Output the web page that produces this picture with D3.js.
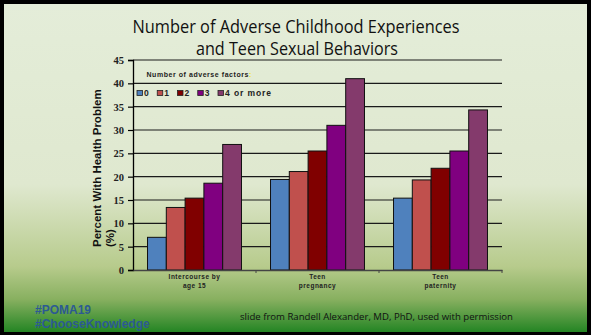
<!DOCTYPE html>
<html>
<head>
<meta charset="utf-8">
<script src="https://cdn.jsdelivr.net/npm/d3@7"></script>
<style>
  body { margin: 0; background: #000; }
  svg { display: block; }
</style>
</head>
<body>
<div id="wrapper"></div>
<script>
// chart data
const groups = ["Intercourse by|age 15", "Teen|pregnancy", "Teen|paternity"];
const factors = ["0", "1", "2", "3", "4 or more"];
const colors = ["#4f81bd", "#c0504d", "#800000", "#800080", "#843a6c"];
const values0 = [7.0, 19.4, 15.4];
const values1 = [13.4, 21.1, 19.3];
const values2 = [15.4, 25.5, 21.8];
const values3 = [18.6, 31.0, 25.5];
const values4 = [26.9, 41.0, 34.3];
const yTicks = [0, 5, 10, 15, 20, 25, 30, 35, 40, 45];

const series = [values0, values1, values2, values3, values4];

let dimensions = {
    width: 591,
    height: 335,
    margin: { top: 60, left: 133, bottom: 65, right: 89 }
}
dimensions.boundedWidth = dimensions.width - dimensions.margin.left - dimensions.margin.right;
dimensions.boundedHeight = dimensions.height - dimensions.margin.top - dimensions.margin.bottom;

const svg = d3.select("#wrapper").append("svg")
    .attr("width", dimensions.width)
    .attr("height", dimensions.height);

// slide background
const grad = svg.append("defs").append("linearGradient")
    .attr("id", "bg").attr("x1", 0).attr("y1", 0).attr("x2", 0).attr("y2", 1);
[[0, "#e4edd9"], [0.55, "#dfe8cf"], [0.8, "#b7cb8c"], [0.9, "#88b060"], [1, "#248524"]]
    .forEach(s => grad.append("stop").attr("offset", s[0]).attr("stop-color", s[1]));

svg.append("rect").attr("width", dimensions.width).attr("height", dimensions.height).attr("fill", "#000");
svg.append("rect").attr("x", 4).attr("y", 4)
    .attr("width", dimensions.width - 8).attr("height", dimensions.height - 7)
    .attr("fill", "url(#bg)");

// title
const title = svg.append("g").attr("font-family", "Open Sans, sans-serif").attr("fill", "#111");
title.append("text").attr("x", 296).attr("y", 33).attr("text-anchor", "middle")
    .attr("font-size", 18).attr("textLength", 327).attr("lengthAdjust", "spacingAndGlyphs")
    .text("Number of Adverse Childhood Experiences");
title.append("text").attr("x", 297).attr("y", 55).attr("text-anchor", "middle")
    .attr("font-size", 18).attr("textLength", 202).attr("lengthAdjust", "spacingAndGlyphs")
    .text("and Teen Sexual Behaviors");

const container = svg.append("g")
    .attr("transform", `translate(${dimensions.margin.left}, ${dimensions.margin.top})`);

const xScaler = d3.scaleBand()
    .domain(groups)
    .range([0, dimensions.boundedWidth])
    .paddingInner(0.236)
    .paddingOuter(0.118);
const xInner = d3.scaleBand()
    .domain(factors)
    .range([0, xScaler.bandwidth()]);
const yScaler = d3.scaleLinear()
    .domain([0, 45])
    .range([dimensions.boundedHeight, 0]);

// grid lines
container.append("g").selectAll("line")
    .data(yTicks.filter(d => d > 0))
    .enter().append("line")
    .attr("x1", 0).attr("x2", dimensions.boundedWidth)
    .attr("y1", d => yScaler(d)).attr("y2", d => yScaler(d))
    .attr("stroke", "#1a1a1a").attr("stroke-width", 1.2);

// bars
const barGroups = container.selectAll(".grp")
    .data(groups)
    .enter().append("g")
    .attr("class", "grp")
    .attr("transform", d => `translate(${xScaler(d)},0)`);

barGroups.selectAll("rect")
    .data((g, gi) => factors.map((f, fi) => ({ f: f, fi: fi, v: series[fi][gi] })))
    .enter().append("rect")
    .attr("x", d => xInner(d.f))
    .attr("y", d => yScaler(d.v))
    .attr("width", xInner.bandwidth())
    .attr("height", d => yScaler(0) - yScaler(d.v))
    .attr("fill", d => colors[d.fi])
    .attr("stroke", "#111")
    .attr("stroke-width", 1);

// y axis
const yAxisGen = d3.axisLeft(yScaler).tickValues(yTicks).tickSize(5).tickPadding(4);
const axisY = container.append("g").call(yAxisGen);
axisY.select(".domain").attr("stroke", "#000").attr("stroke-width", 1.3);
axisY.selectAll(".tick line").attr("stroke", "#000").attr("stroke-width", 1.2);
axisY.selectAll(".tick text")
    .attr("font-family", "Liberation Serif, serif")
    .attr("font-weight", "bold")
    .attr("font-size", 10.5)
    .attr("fill", "#222");

// x axis
const xAxisGen = d3.axisBottom(xScaler).tickSize(0).tickFormat("");
const axisX = container.append("g")
    .attr("transform", `translate(0, ${dimensions.boundedHeight})`)
    .call(xAxisGen);
axisX.select(".domain").attr("stroke", "#444").attr("stroke-width", 1.3);
// small ticks between groups
axisX.selectAll(".sep")
    .data(groups.slice(1))
    .enter().append("line")
    .attr("x1", d => xScaler(d) - xScaler.step() * xScaler.paddingInner() / 2)
    .attr("x2", d => xScaler(d) - xScaler.step() * xScaler.paddingInner() / 2)
    .attr("y1", 0).attr("y2", 3)
    .attr("stroke", "#444");
axisX.append("line")
    .attr("x1", dimensions.boundedWidth).attr("x2", dimensions.boundedWidth)
    .attr("y1", 0).attr("y2", 3).attr("stroke", "#444");

// category labels
groups.forEach(g => {
    const lines = g.split("|");
    lines.forEach((l, i) => {
        axisX.append("text")
            .attr("x", xScaler(g) + xScaler.bandwidth() / 2)
            .attr("y", 9 + i * 9)
            .attr("text-anchor", "middle")
            .attr("font-family", "Liberation Sans, Arial, sans-serif")
            .attr("font-weight", "bold")
            .attr("font-size", 6.5)
            .attr("letter-spacing", 0.5)
            .attr("fill", "#222")
            .text(l);
    });
});

// y label
const yLabel = svg.append("text")
    .attr("transform", "translate(101, 247) rotate(-90)")
    .attr("font-family", "Liberation Sans, Arial, sans-serif")
    .attr("font-weight", "bold")
    .attr("font-size", 11.5)
    .attr("fill", "#111");
yLabel.append("tspan").attr("x", 0).attr("y", 0).text("Percent With Health Problem");
yLabel.append("tspan").attr("x", 0).attr("y", 13).text("(%)");

// legend
container.append("text")
    .attr("x", 13.5).attr("y", 16.7)
    .attr("font-family", "Liberation Sans, Arial, sans-serif")
    .attr("font-weight", "bold")
    .attr("font-size", 7)
    .attr("letter-spacing", 0.55)
    .attr("fill", "#222")
    .text("Number of adverse factors")
    .append("tspan").attr("fill", "#f2e600").text(":");

const legendX = d3.scalePoint().domain(factors).range([4, 85]);
const legend = container.selectAll(".leg")
    .data(factors)
    .enter().append("g")
    .attr("class", "leg")
    .attr("transform", d => `translate(${legendX(d)}, 30.5)`);
legend.append("rect")
    .attr("x", 0).attr("y", 0).attr("width", 5.5).attr("height", 5)
    .attr("fill", (d, i) => colors[i])
    .attr("stroke", "#222").attr("stroke-width", 0.8);
legend.append("text")
    .attr("x", 7).attr("y", 5.2)
    .attr("font-family", "Liberation Sans, Arial, sans-serif")
    .attr("font-weight", "bold")
    .attr("font-size", 8.5)
    .attr("letter-spacing", 0.9)
    .attr("fill", "#222")
    .text(d => d);

// footer
const tags = svg.append("g")
    .attr("font-family", "Liberation Sans, Arial, sans-serif")
    .attr("font-weight", "bold")
    .attr("font-size", 12)
    .attr("fill", "#2c5a92");
tags.append("text").attr("x", 35).attr("y", 314).text("#POMA19");
tags.append("text").attr("x", 35).attr("y", 327.5).text("#ChooseKnowledge");

svg.append("text")
    .attr("x", 240).attr("y", 320)
    .attr("font-family", "Open Sans, sans-serif")
    .attr("font-size", 9.5)
    .attr("fill", "#111")
    .attr("textLength", 273).attr("lengthAdjust", "spacingAndGlyphs")
    .text("slide from Randell Alexander, MD, PhD, used with permission");
</script>
</body>
</html>
